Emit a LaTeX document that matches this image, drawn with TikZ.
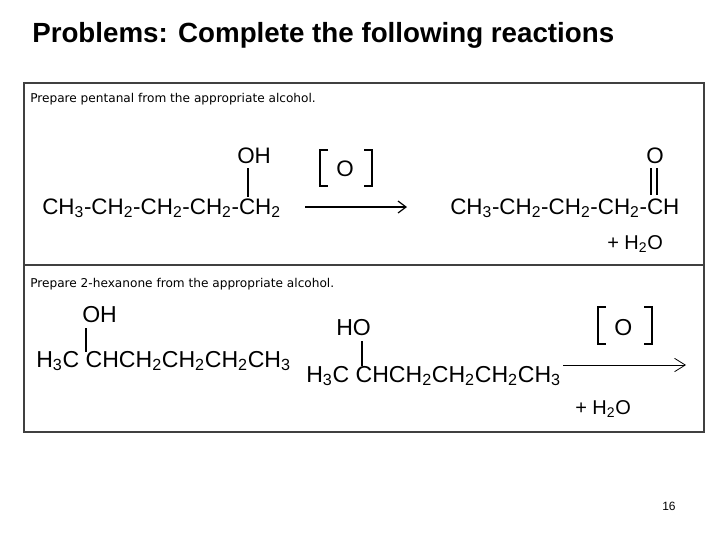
\documentclass[tikz,border=0pt]{standalone}
\usetikzlibrary{arrows.meta}
\usepackage{fontspec}
\setmainfont{Liberation Sans}
\newfontfamily\dv{DejaVu Sans}
\begin{document}
\begin{tikzpicture}[x=0.75pt,y=-0.75pt,
  chem/.style={anchor=base west,inner sep=0,font=\fontsize{16.8}{20}\selectfont},
  chemb/.style={anchor=base west,inner sep=0,font=\fontsize{17.3}{20}\selectfont},
  note/.style={anchor=base west,inner sep=0,font=\dv\fontsize{9.1}{11}\selectfont},
  box/.style={draw=black!75,line width=1.5pt},
  bond/.style={line width=0.9pt},
  arr/.style={line width=0.9pt,-{Straight Barb[length=6pt,width=9pt]}}]
\useasboundingbox (0,0) rectangle (720,540);
\node[anchor=base west,inner sep=0,font=\bfseries\fontsize{20.8}{24}\selectfont] (title) at (32,42) {Problems: Complete the following reactions};
\draw[box] (24,83) rectangle (704,265);
\draw[box] (24,265) rectangle (704,432);
\node[note] (t1) at (30,102) {Prepare pentanal from the appropriate alcohol.};
\node[note] (t2) at (30,287) {Prepare 2-hexanone from the appropriate alcohol.};
% reaction 1
\node[chem] (r1) at (42,214) {CH\textsubscript{3}-CH\textsubscript{2}-CH\textsubscript{2}-CH\textsubscript{2}-CH\textsubscript{2}};
\node[chem] (oh1) at (237,163) {OH};
\draw[bond] (248,168) -- (248,197);
\node[chem] (ox1) at (336,176) {O};
\draw[bond] (328,150) -- (320,150) -- (320,186) -- (328,186);
\draw[bond] (364,150) -- (372,150) -- (372,186) -- (364,186);
\coordinate (a1s) at (305,207); \coordinate (a1e) at (407,207);
\draw[arr] (a1s) -- (a1e);
\node[chem] (p1) at (450,214) {CH\textsubscript{3}-CH\textsubscript{2}-CH\textsubscript{2}-CH\textsubscript{2}-CH};
\node[chem] (o1) at (646,163) {O};
\draw[bond] (651,168) -- (651,195);
\draw[bond] (657,168) -- (657,195);
\node[chem,font=\fontsize{15}{18}\selectfont] (w1) at (607,249) {+ H\textsubscript{2}O};
% reaction 2
\node[chemb] (oh2) at (82,322) {OH};
\draw[bond] (86,328) -- (86,352);
\node[chemb] (r2) at (36,367) {H\textsubscript{3}C CHCH\textsubscript{2}CH\textsubscript{2}CH\textsubscript{2}CH\textsubscript{3}};
\node[chemb] (ho2) at (336,335) {HO};
\draw[bond] (362,341) -- (362,366);
\node[chemb] (p2) at (306,382) {H\textsubscript{3}C CHCH\textsubscript{2}CH\textsubscript{2}CH\textsubscript{2}CH\textsubscript{3}};
\node[chemb] (ox2) at (614,335) {O};
\draw[bond] (606,307) -- (598,307) -- (598,344) -- (606,344);
\draw[bond] (644,307) -- (652,307) -- (652,344) -- (644,344);
\coordinate (a2s) at (563,365); \coordinate (a2e) at (686,365);
\draw[line width=0.6pt,-{Straight Barb[length=8pt,width=10pt]}] (a2s) -- (a2e);
\node[chem,font=\fontsize{15}{18}\selectfont] (w2) at (575,414) {+ H\textsubscript{2}O};
\node[anchor=base west,inner sep=0,font=\fontsize{9}{11}\selectfont] (pg) at (662,510) {16};
\end{tikzpicture}
\end{document}
